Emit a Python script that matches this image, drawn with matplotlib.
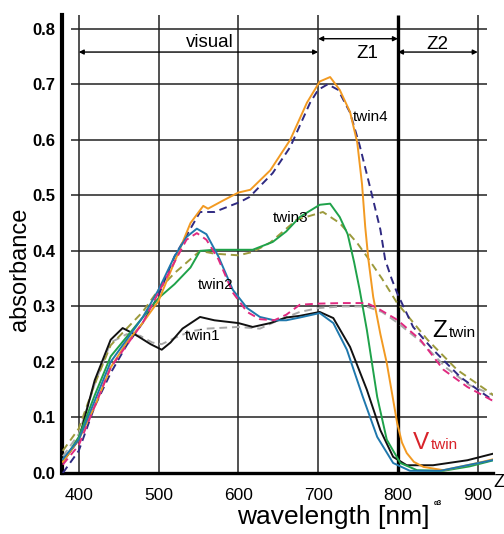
import matplotlib
matplotlib.use('Agg')
import matplotlib.pyplot as plt
import numpy as np

# twin4 (orange solid / navy dashed)
wl_or = [380, 400, 420, 440, 460, 480, 500, 520, 540, 556, 562, 580, 600, 615, 640, 665, 686, 702, 715, 727,
         740, 749, 755, 759, 763, 769, 778, 786, 793, 799, 805, 811, 820, 832, 857, 880, 900, 920]
a_or = [0.02, 0.06, 0.12, 0.19, 0.235, 0.27, 0.31, 0.38, 0.45, 0.481, 0.476, 0.49, 0.505, 0.51, 0.545, 0.60, 0.667, 0.705, 0.713, 0.69,
        0.65, 0.595, 0.52, 0.443, 0.384, 0.317, 0.25, 0.198, 0.14, 0.09, 0.055, 0.036, 0.02, 0.011, 0.005, 0.012, 0.018, 0.025]
wl_nv = [380, 400, 420, 440, 460, 480, 500, 520, 540, 552, 570, 602, 614, 643, 665, 690, 700, 712, 725, 740,
         752, 765, 778, 784, 792, 799, 819, 844, 878, 900, 924]
a_nv = [0.0, 0.04, 0.12, 0.18, 0.23, 0.27, 0.32, 0.39, 0.44, 0.47, 0.47, 0.488, 0.497, 0.54, 0.587, 0.667, 0.69, 0.70, 0.69, 0.649,
        0.59, 0.515, 0.438, 0.384, 0.35, 0.324, 0.263, 0.222, 0.173, 0.15, 0.126]

# twin3 (green solid / olive dashed)
wl_gr = [380, 400, 420, 440, 460, 480, 500, 520, 540, 552, 570, 589, 618, 643, 660, 677, 702, 715, 727, 737,
         745, 752, 761, 774, 786, 803, 824, 857, 890, 928]
a_gr = [0.02, 0.065, 0.14, 0.21, 0.245, 0.28, 0.315, 0.34, 0.37, 0.40, 0.402, 0.402, 0.402, 0.416, 0.435, 0.461, 0.483, 0.485, 0.461, 0.43,
        0.38, 0.33, 0.258, 0.137, 0.06, 0.018, 0.005, 0.004, 0.012, 0.026]
wl_ol = [380, 400, 420, 440, 460, 480, 500, 520, 540, 552, 570, 600, 618, 640, 673, 706, 727, 749, 761, 780,
         799, 837, 874, 900, 928]
a_ol = [0.04, 0.08, 0.16, 0.23, 0.26, 0.29, 0.33, 0.36, 0.385, 0.40, 0.395, 0.392, 0.398, 0.415, 0.456, 0.47, 0.45, 0.414, 0.39, 0.35,
        0.306, 0.24, 0.186, 0.16, 0.132]

# twin2 (teal solid / magenta dashed)
wl_tl = [380, 400, 420, 440, 460, 480, 500, 520, 535, 548, 560, 575, 593, 611, 627, 645, 660, 677, 702, 719,
         736, 756, 774, 794, 815, 853, 887, 928]
a_tl = [0.025, 0.06, 0.13, 0.2, 0.24, 0.28, 0.33, 0.39, 0.425, 0.44, 0.43, 0.39, 0.33, 0.297, 0.281, 0.275, 0.275, 0.28, 0.288, 0.27,
        0.222, 0.137, 0.065, 0.018, 0.004, 0.004, 0.014, 0.026]
wl_mg = [380, 400, 420, 440, 460, 480, 500, 520, 535, 548, 560, 575, 593, 611, 627, 645, 660, 677, 700, 730,
         761, 774, 799, 828, 857, 887, 924]
a_mg = [0.015, 0.05, 0.12, 0.19, 0.23, 0.27, 0.325, 0.38, 0.42, 0.432, 0.42, 0.385, 0.325, 0.29, 0.277, 0.275, 0.285, 0.303, 0.305, 0.306,
        0.306, 0.297, 0.276, 0.24, 0.186, 0.155, 0.126]

# twin1 (black solid / grey dashed)
wl_bk = [380, 400, 420, 440, 455, 470, 490, 504, 515, 530, 552, 570, 600, 618, 640, 660, 677, 702, 719, 740,
         761, 778, 794, 811, 844, 887, 928]
a_bk = [0.02, 0.06, 0.167, 0.24, 0.261, 0.25, 0.232, 0.222, 0.235, 0.26, 0.281, 0.275, 0.27, 0.263, 0.27, 0.28, 0.283, 0.29, 0.279, 0.227,
        0.15, 0.077, 0.029, 0.014, 0.014, 0.023, 0.038]
wl_gy = [380, 400, 420, 440, 460, 477, 492, 504, 520, 540, 560, 600, 627, 650, 677, 700, 730, 760, 780, 800,
         830, 860, 890, 928]
a_gy = [0.03, 0.07, 0.16, 0.235, 0.25, 0.247, 0.235, 0.232, 0.243, 0.255, 0.26, 0.263, 0.26, 0.275, 0.29, 0.297, 0.3, 0.3, 0.29, 0.27,
        0.235, 0.19, 0.158, 0.135]

yticks = [0.0, 0.1, 0.2, 0.3, 0.4, 0.5, 0.6, 0.7, 0.8]
xticks = [400, 500, 600, 700, 800, 900]

dash = (0, (4, 2.5))
curves = [
    (wl_gy, a_gy, '#a8a8a8', dash),
    (wl_ol, a_ol, '#9c9a3c', dash),
    (wl_nv, a_nv, '#2f2a82', dash),
    (wl_bk, a_bk, '#111111', '-'),
    (wl_gr, a_gr, '#1fa24a', '-'),
    (wl_or, a_or, '#f29a22', '-'),
    (wl_tl, a_tl, '#1f78ad', '-'),
    (wl_mg, a_mg, '#e02a80', dash),
]

fig = plt.figure(figsize=(5.04, 5.34), dpi=100)
ax = fig.add_axes([0.123, 0.1142, 0.855, 0.858])
ax.set_xlim(379, 919)
ax.set_ylim(0, 0.825)

# grid drawn by hand so the horizontals stop short of the spine like the original
ax.hlines(yticks[1:], 390, 911, color='#222222', lw=1.1, zorder=1)
ax.vlines([400, 500, 600, 700, 900], 0, 0.825, color='#222222', lw=1.1, zorder=1)
ax.vlines(800, 0, 0.825, color='black', lw=2.4, zorder=1)

for x, y, c, ls in curves:
    ax.plot(x, y, color=c, ls=ls, lw=1.4, zorder=3)

for s in ['top', 'right']:
    ax.spines[s].set_visible(False)
ax.spines['left'].set_linewidth(3)
ax.spines['bottom'].set_linewidth(2.4)

tf = ['Liberation Sans', 'DejaVu Sans']
ax.set_yticks(yticks)
ax.set_yticklabels(['%.1f' % v for v in yticks], fontweight='bold', fontsize=12, family=tf)
ax.set_xticks(xticks)
ax.set_xticklabels([str(v) for v in xticks], fontsize=12.5,
                   family=['Liberation Sans Narrow', 'Liberation Sans', 'DejaVu Sans'])
ax.tick_params(axis='y', length=0, pad=5)
ax.tick_params(axis='x', length=0, pad=11)

ax.set_ylabel('absorbance', fontsize=17, family=tf)
ax.yaxis.set_label_coords(-0.072, 0.445)
ax.set_xlabel('wavelength [nm]', fontsize=19, family=tf)
ax.xaxis.set_label_coords(0.63, -0.07)

# region arrows
arr = dict(arrowstyle='<|-|>', color='black', lw=1.0, mutation_scale=7, shrinkA=0, shrinkB=0)
ax.annotate('', xy=(400, 0.758), xytext=(700, 0.758), arrowprops=arr)
ax.annotate('', xy=(700, 0.782), xytext=(800, 0.782), arrowprops=arr)
ax.annotate('', xy=(800, 0.758), xytext=(900, 0.758), arrowprops=arr)
ax.text(564, 0.775, 'visual', fontsize=13.5, ha='center', va='center', family=tf)
ax.text(761, 0.756, 'Z1', fontsize=13.5, ha='center', va='center', family=tf)
ax.text(850, 0.771, 'Z2', fontsize=13.5, ha='center', va='center', family=tf)

ax.text(744, 0.641, 'twin4', fontsize=11, ha='left', va='center', family=tf, zorder=5)
ax.text(643, 0.459, 'twin3', fontsize=11, ha='left', va='center', family=tf, zorder=5)
ax.text(549, 0.339, 'twin2', fontsize=11, ha='left', va='center', family=tf, zorder=5)
ax.text(533, 0.247, 'twin1', fontsize=11, ha='left', va='center', family=tf, zorder=5)

ax.text(843, 0.245, 'Z', fontsize=17.5, ha='left', va='baseline', family=tf)
ax.text(864, 0.245, 'twin', fontsize=11, ha='left', va='baseline', family=tf)
ax.text(819, 0.043, 'V', fontsize=17.5, ha='left', va='baseline', color='#d8232a', family=tf)
ax.text(841, 0.043, 'twin', fontsize=11, ha='left', va='baseline', color='#d8232a', family=tf)

fig.text(0.978, 0.097, 'Z', fontsize=13, ha='left', va='center', family=tf)
fig.text(0.868, 0.058, 'α3', fontsize=5, ha='center', va='center', fontweight='bold', family=tf)

fig.savefig('out.png', dpi=100)
